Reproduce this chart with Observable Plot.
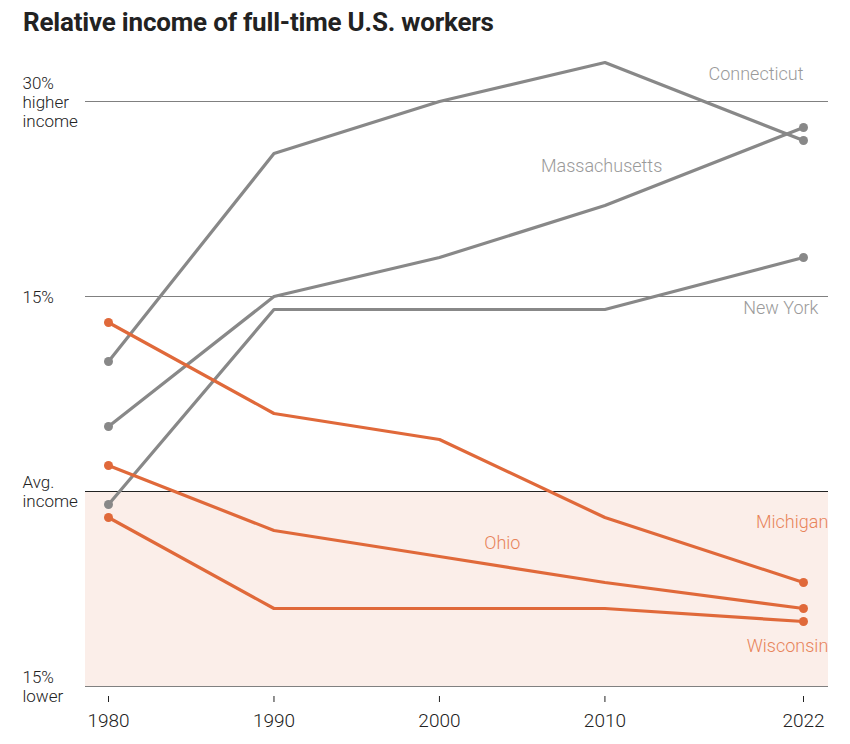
<!DOCTYPE html>
<html>
<head>
<meta charset="utf-8">
<script src="https://cdn.jsdelivr.net/npm/d3@7"></script>
<script src="https://cdn.jsdelivr.net/npm/@observablehq/plot@0.6"></script>
<style>
  body { margin: 0; background: #fff; font-family: Roboto, "Noto Sans", sans-serif; }
  #title { height: 50px; box-sizing: border-box; padding: 7px 0 0 23px; font-size: 26px; font-weight: 700; color: #222; letter-spacing: -0.2px; }
</style>
</head>
<body>
<div id="title">Relative income of full-time U.S. workers</div>
<div id="chart"></div>
<script>
const years = [1980, 1990, 2000, 2010, 2022];
const states = ["Connecticut", "Massachusetts", "New York", "Michigan", "Ohio", "Wisconsin"];
const group = { "Connecticut": "up", "Massachusetts": "up", "New York": "up", "Michigan": "down", "Ohio": "down", "Wisconsin": "down" };
const values = {
  "Connecticut":   [10, 26, 30, 33, 27],
  "Massachusetts": [5, 15, 18, 22, 28],
  "New York":      [-1, 14, 14, 14, 18],
  "Michigan":      [13, 6, 4, -2, -7],
  "Ohio":          [2, -3, -5, -7, -9],
  "Wisconsin":     [-2, -9, -9, -9, -10]
};
const yTicks = [30, 15, 0, -15];
const yTickLabels = ["30%\nhigher\nincome", "15%", "Avg.\nincome", "15%\nlower"];
const shade = [{ from: -15, to: 0 }];
const labelsEnd = [
  { state: "Connecticut", year: 2022,   value: 32.1 },
  { state: "New York",    year: 2022.9, value: 14.1 },
  { state: "Michigan",    year: 2023.5, value: -2.4 },
  { state: "Wisconsin",   year: 2023.5, value: -11.9 }
];
const labelsMiddle = [
  { state: "Massachusetts", year: 2009.8, value: 25 },
  { state: "Ohio",          year: 2003.8, value: -4 }
];

const colors = { up: "#888888", down: "#e0693a" };
const labelColors = { up: "#9a9a9a", down: "#e8845a" };

const data = states.flatMap(s => years.map((y, i) => ({ state: s, year: y, value: values[s][i], group: group[s] })));
const ends = data.filter(d => d.year === years[0] || d.year === years[years.length - 1]);
const tickData = yTicks.map((t, i) => ({ value: t, label: yTickLabels[i] }));
const labelFill = d => labelColors[group[d.state]];

const chart = Plot.plot({
  width: 850,
  height: 694,
  marginLeft: 85,
  marginRight: 22,
  marginTop: 51,
  marginBottom: 48,
  style: { fontFamily: "Roboto, 'Noto Sans', sans-serif", fontSize: "17px", color: "#222", background: "#fff" },
  x: { domain: [1980, 2022], insetLeft: 23, insetRight: 25 },
  y: { domain: [-15, 30], insetBottom: 10, axis: null },
  marks: [
    Plot.rect(shade, { y1: "from", y2: "to", fill: "#fbeee9" }),
    Plot.ruleY([30, 15, -15], { stroke: "#808080", strokeWidth: 1 }),
    Plot.ruleY([0], { stroke: "#222", strokeWidth: 1.2 }),
    Plot.text(tickData, { y: "value", text: "label", frameAnchor: "left", dx: -63, textAnchor: "start", lineHeight: 1.12, fontSize: 17, fill: "#222", fontWeight: 300 }),
    Plot.axisX({ ticks: years, tickFormat: d => String(d), tickSize: 6, tickPadding: 11, fontSize: 19, stroke: "#222", label: null, fontWeight: 300 }),
    Plot.line(data, { x: "year", y: "value", z: "state", stroke: d => colors[d.group], strokeWidth: 3.2, strokeLinejoin: "round" }),
    Plot.dot(ends, { x: "year", y: "value", r: 4.5, fill: d => colors[d.group] }),
    Plot.text(labelsEnd, { x: "year", y: "value", text: "state", textAnchor: "end", fill: labelFill, fontSize: 18, fontWeight: 300 }),
    Plot.text(labelsMiddle, { x: "year", y: "value", text: "state", textAnchor: "middle", fill: labelFill, fontSize: 18, fontWeight: 300 })
  ]
});
document.getElementById("chart").appendChild(chart);
</script>
</body>
</html>
